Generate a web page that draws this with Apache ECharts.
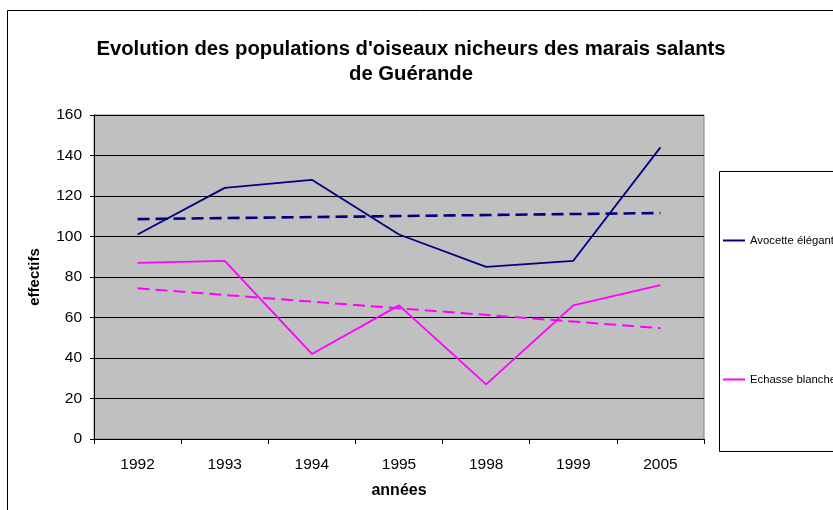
<!DOCTYPE html>
<html><head><meta charset="utf-8">
<script src="https://cdn.jsdelivr.net/npm/echarts@6/dist/echarts.min.js"></script>
<style>html,body{margin:0;padding:0;background:#fff}#c{width:833px;height:510px}</style>
</head><body><div id="c"></div>
<script>
const years = ['1992','1993','1994','1995','1998','1999','2005'];
const avocette = [101,124,128,101,85,88,144];
const echasse = [87,88,42,66,27,66,76];
// linear trendline endpoints (first and last category)
const avocetteTrend = [108.6,null,null,null,null,null,111.6];
const echasseTrend = [74.4,null,null,null,null,null,54.7];
const yTicks = [0,20,40,60,80,100,120,140,160];

const F = 'Arial, "Liberation Sans", sans-serif';
const chart = echarts.init(document.getElementById('c'), null, {renderer:'canvas'});
chart.setOption({
  animation:false,
  backgroundColor:'#fff',
  title:{
    text:"Evolution des populations d'oiseaux nicheurs des marais salants\nde Guérande",
    left:406, top:32, textAlign:'center',
    textStyle:{fontFamily:F, fontSize:20.3, fontWeight:'bold', color:'#000', lineHeight:25}
  },
  graphic:[
    {type:'rect', shape:{x:7.5,y:10.5,width:900,height:600}, style:{fill:'none',stroke:'#000',lineWidth:1}, z:-10},
    {type:'rect', shape:{x:719.5,y:171.5,width:200,height:280}, style:{fill:'#fff',stroke:'#000',lineWidth:1}, z:-5}
  ],
  legend:{
    orient:'vertical', left:723, top:235, itemGap:128, padding:0,
    icon:'rect', itemWidth:22, itemHeight:2, itemTextGap:0,
    data:['Avocette élégante','Echasse blanche'],
    textStyle:{fontFamily:F, fontSize:11.3, color:'#000'}
  },
  grid:{left:94, top:115, right:129, bottom:71, show:true, backgroundColor:'#c0c0c0', borderColor:'#808080', borderWidth:1},
  xAxis:{
    type:'category', data:years, boundaryGap:true,
    name:'années', nameLocation:'middle', nameGap:44,
    nameTextStyle:{fontFamily:F, fontSize:16, fontWeight:'bold', color:'#000'},
    axisLine:{lineStyle:{color:'#000',width:1}},
    axisTick:{show:true, alignWithLabel:false, length:5, lineStyle:{color:'#000'}},
    axisLabel:{fontFamily:F, fontSize:15.5, color:'#000', margin:18},
    splitLine:{show:false}
  },
  yAxis:{
    type:'value', min:yTicks[0], max:yTicks[yTicks.length-1], interval:20,
    name:'effectifs', nameLocation:'middle', nameGap:52, nameRotate:90,
    nameTextStyle:{fontFamily:F, fontSize:15, fontWeight:'bold', color:'#000'},
    axisLine:{show:true, lineStyle:{color:'#000',width:1}},
    axisTick:{show:true, length:4, lineStyle:{color:'#000'}},
    axisLabel:{fontFamily:F, fontSize:15.5, color:'#000', margin:12},
    splitLine:{show:true, lineStyle:{color:'#000',width:1}}
  },
  series:[
    {name:'Avocette élégante', type:'line', data:avocette, symbol:'none', color:'#000080', lineStyle:{width:1.8,color:'#000080'}, z:3},
    {name:'Echasse blanche', type:'line', data:echasse, symbol:'none', color:'#ff00ff', lineStyle:{width:1.8,color:'#ff00ff'}, z:3},
    {name:'trend1', type:'line', data:avocetteTrend, connectNulls:true, symbol:'none', lineStyle:{width:2.6,color:'#000080',type:[12,6]}, z:2},
    {name:'trend2', type:'line', data:echasseTrend, connectNulls:true, symbol:'none', lineStyle:{width:2,color:'#ff00ff',type:[12,6]}, z:2}
  ]
});
</script></body></html>
